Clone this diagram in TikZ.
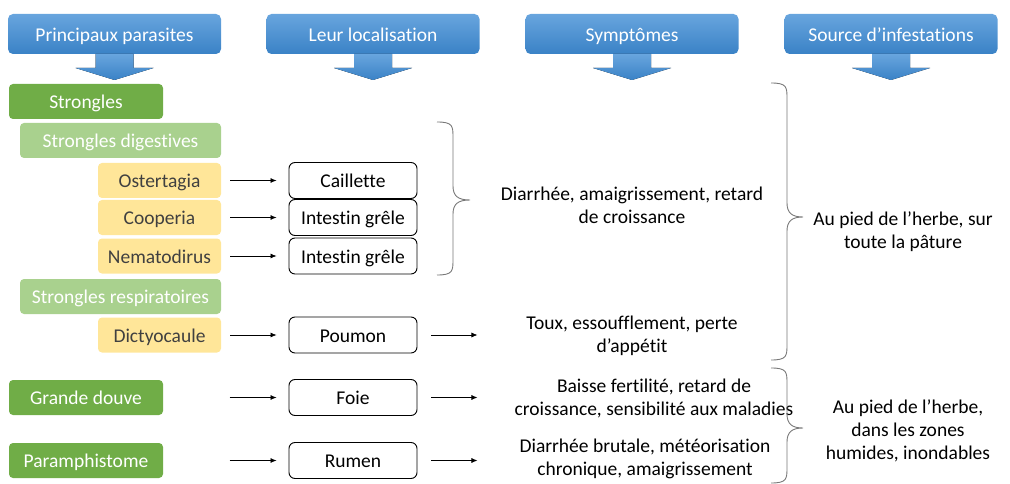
\documentclass[tikz,border=0pt]{standalone}
\usepackage{fontspec}
\setmainfont[Ligatures={NoCommon}]{Carlito}
\usetikzlibrary{arrows.meta}

\definecolor{hdrtop}{RGB}{104,165,222}
\definecolor{hdrbot}{RGB}{58,130,198}
\definecolor{grdark}{RGB}{112,173,71}
\definecolor{grlight}{RGB}{169,209,142}
\definecolor{ylw}{RGB}{255,230,153}
\definecolor{brc}{RGB}{120,120,120}
\definecolor{ytxt}{RGB}{64,64,64}

\tikzset{
  boite/.style={inner sep=0pt, text height=14.5pt, text depth=0pt},
  hdr/.style={boite, rounded corners=5pt, top color=hdrtop, bottom color=hdrbot, text=white, minimum width=213pt, minimum height=40pt},
  para/.style={boite, rounded corners=4pt, fill=grdark, text=white, minimum width=154pt, minimum height=35pt},
  sous/.style={para, fill=grlight, minimum width=201pt},
  espece/.style={para, fill=ylw, text=ytxt, minimum width=123pt},
  organe/.style={boite, draw=black, rounded corners=6pt, fill=white, minimum width=128pt, minimum height=36pt, line width=0.9pt},
  txt/.style={align=center, text=black, inner sep=0pt},
  fleche/.style={-{Latex[length=6pt,width=5pt]}, line width=0.7pt},
  accolade/.style={draw=brc, line width=0.9pt},
  bloc/.style={top color=hdrtop, bottom color=hdrbot},
}

\begin{document}
\begin{tikzpicture}[x=1pt,y=1pt,yscale=-1,font=\fontsize{19.5}{23}\selectfont]
  \useasboundingbox (0,0) rectangle (1010,484);
  % en-tetes
  \node[hdr] (h1) at (114.5,34) {Principaux parasites};
  \node[hdr] (h2) at (373,34) {Leur localisation};
  \node[hdr] (h3) at (632,34) {Symptômes};
  \node[hdr] (h4) at (891,34) {Source d’infestations};
  \foreach \x in {114.5,373,632,891}
    \fill[bloc] (\x-19,54) -- (\x+19,54) -- (\x+19,68) -- (\x+39,68) -- (\x,80) -- (\x-39,68) -- (\x-19,68) -- cycle;
  % parasites
  \node[para] (str) at (86,101.5) {Strongles};
  \node[sous] (dig) at (120.5,140.5) {Strongles digestives};
  \node[espece] (ost) at (159.5,180.5) {Ostertagia};
  \node[espece] (coo) at (159.5,217.5) {Cooperia};
  \node[espece] (nem) at (159.5,256) {Nematodirus};
  \node[sous] (resp) at (120.5,296.5) {Strongles respiratoires};
  \node[espece] (dic) at (159.5,335) {Dictyocaule};
  \node[para] (gd) at (86,397.5) {Grande douve};
  \node[para] (pam) at (86,460.5) {Paramphistome};
  % localisation
  \node[organe] (cai) at (353,180.5) {Caillette};
  \node[organe] (ig1) at (353,217.5) {Intestin grêle};
  \node[organe] (ig2) at (353,256) {Intestin grêle};
  \node[organe] (pou) at (353,335) {Poumon};
  \node[organe] (foie) at (353,397.5) {Foie};
  \node[organe] (rum) at (353,460.5) {Rumen};
  % symptomes
  \node[txt] (sym1) at (632,205) {Diarrhée, amaigrissement, retard\\de croissance};
  \node[txt] (sym2) at (632,336) {Toux, essoufflement, perte\\d’appétit};
  \node[txt] (sym3) at (654,398) {Baisse fertilité, retard de\\croissance, sensibilité aux maladies};
  \node[txt] (sym4) at (645,459) {Diarrhée brutale, météorisation\\chronique, amaigrissement};
  % sources
  \node[txt] (src1) at (903,232) {Au pied de l’herbe, sur\\toute la pâture};
  \node[txt] (src2) at (908,431) {Au pied de l’herbe,\\dans les zones\\humides, inondables};
  % fleches
  \foreach \a/\b in {ost/cai,coo/ig1,nem/ig2,dic/pou}
    \draw[fleche] ([xshift=9pt]\a.east) -- ([xshift=-12pt]\b.west);
  \foreach \b in {foie,rum}
    \draw[fleche] ([xshift=-59pt]\b.west) -- ([xshift=-12pt]\b.west);
  \foreach \b in {pou,foie,rum}
    \draw[fleche] ([xshift=14pt]\b.east) -- ([xshift=60pt]\b.east);
  % accolades
  \draw[accolade] (437,122) .. controls (453,122) and (453,126) .. (453,138) -- (453,186)
    .. controls (453,196) and (458,200) .. (470,200) .. controls (458,200) and (453,204) .. (453,214)
    -- (453,259) .. controls (453,271) and (453,275) .. (437,275);
  \draw[accolade] (771,83) .. controls (787,83) and (787,87) .. (787,99) -- (787,203)
    .. controls (787,213) and (792,217) .. (803,217) .. controls (792,217) and (787,221) .. (787,231)
    -- (787,344) .. controls (787,356) and (787,360) .. (771,360);
  \draw[accolade] (771,368) .. controls (787,368) and (787,372) .. (787,384) -- (787,414)
    .. controls (787,424) and (792,428) .. (803,428) .. controls (792,428) and (787,432) .. (787,442)
    -- (787,467) .. controls (787,479) and (787,483) .. (771,483);
\end{tikzpicture}
\end{document}
